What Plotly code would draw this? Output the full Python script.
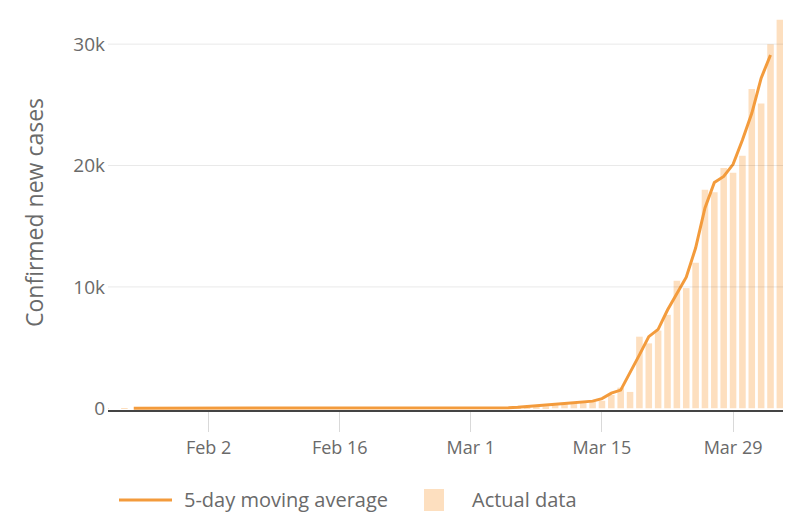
import pandas as pd
import plotly.graph_objects as go

# daily new confirmed cases, Jan 22 - Apr 3 2020
bar_start = "2020-01-22"
actual_cases = [
    # Jan 22-31
    1, 0, 1, 0, 3, 0, 0, 0, 0, 1,
    # Feb 1-29
    1, 2, 3, 0, 0, 1, 0, 0, 0, 1, 1, 0, 0, 1, 0, 0, 0, 0, 0, 0,
    2, 0, 0, 0, 0, 0, 0, 1, 7,
    # Mar 1-31
    8, 20, 20, 30, 60, 50, 110, 110, 160, 250, 330, 400, 500, 550, 620,
    1100, 1700, 1350, 5900, 5350, 6400, 7700, 10500, 9900, 12000, 18000,
    17800, 19800, 19400, 20800, 26300,
    # Apr 1-3
    25100, 30000, 32000,
]

# 5-day moving average, Jan 25 - Apr 2 2020
avg_start = "2020-01-25"
moving_avg = [
    # Jan 25-31
    1, 1, 1, 1, 1, 0, 0,
    # Feb 1-29
    1, 1, 1, 1, 1, 0, 0, 0, 0, 0, 0, 0, 0, 0, 0, 0, 0, 0, 0, 0,
    0, 1, 0, 0, 0, 0, 1, 2, 3,
    # Mar 1-31
    5, 10, 20, 30, 45, 80, 130, 190, 260, 330, 400, 470, 530, 590, 800,
    1250, 1500, 2900, 4400, 5900, 6500, 8100, 9400, 10800, 13200, 16500,
    18600, 19100, 20100, 22100, 24300,
    # Apr 1-2
    27200, 29100,
]

x_tick_vals = ["2020-02-02", "2020-02-16", "2020-03-01", "2020-03-15", "2020-03-29"]
x_tick_text = ["Feb 2", "Feb 16", "Mar 1", "Mar 15", "Mar 29"]
y_tick_vals = [0, 10000, 20000, 30000]
y_tick_text = ["0", "10k", "20k", "30k"]

LINE = "#F39B3C"
BAR = "#FDDFBF"
TEXT = "#6a6a6a"
FONT = "Open Sans"

bar_dates = pd.date_range(bar_start, periods=len(actual_cases), freq="D")
avg_dates = pd.date_range(avg_start, periods=len(moving_avg), freq="D")

fig = go.Figure()
fig.add_trace(go.Bar(x=bar_dates, y=actual_cases, marker_color=BAR,
                     marker_line_width=0, name="Actual data", showlegend=False))
fig.add_trace(go.Scatter(x=avg_dates, y=moving_avg, mode="lines",
                         line=dict(color=LINE, width=3), name="5-day moving average",
                         showlegend=False))

# page body has an 8px margin, so work in figure pixels = screen pixels - 8
OFF = 8
L, R, T, B = 108 - OFF, 783 - OFF, 15 - OFF, 410 - OFF
W, H = 800, 529


def px(x, y):
    # screen pixel -> paper coords
    x -= OFF
    y -= OFF
    return (x - L) / (R - L), (B - y) / (B - T)


# faint gridlines that also show over the bars, like the original
for v in y_tick_vals[1:]:
    fig.add_shape(type="line", xref="paper", yref="y", x0=0, x1=1, y0=v, y1=v,
                  line=dict(color="rgba(0,0,0,0.09)", width=1), layer="above")

# legend drawn by hand so the glyphs match the original
lx0, ly = px(119, 500)
lx1, _ = px(172, 500)
rx0, ry1 = px(424, 489)
rx1, ry0 = px(444, 511)
t1x, _ = px(182, 500)
t2x, _ = px(470, 500)

fig.add_shape(type="line", xref="paper", yref="paper", x0=lx0, x1=lx1, y0=ly, y1=ly,
              line=dict(color=LINE, width=3))
fig.add_shape(type="rect", xref="paper", yref="paper", x0=rx0, x1=rx1, y0=ry0, y1=ry1,
              fillcolor=BAR, line_width=0)
fig.add_annotation(xref="paper", yref="paper", x=t1x, y=ly, text="5-day moving average",
                   showarrow=False, xanchor="left", yanchor="middle",
                   font=dict(family=FONT, size=20, color=TEXT))
fig.add_annotation(xref="paper", yref="paper", x=t2x, y=ly, text="Actual data",
                   showarrow=False, xanchor="left", yanchor="middle",
                   font=dict(family=FONT, size=20, color=TEXT))

fig.update_layout(
    width=W, height=H,
    margin=dict(l=L, r=W - R, t=T, b=H - B),
    plot_bgcolor="white", paper_bgcolor="white",
    bargap=0.3,
    font=dict(family=FONT, color=TEXT),
)
fig.update_xaxes(
    range=["2020-01-22 06:00", "2020-04-03 08:00"],
    tickvals=x_tick_vals, ticktext=x_tick_text,
    ticks="outside", ticklen=20, tickcolor="#d9d9d9", tickwidth=1,
    showgrid=False, zeroline=False,
    showline=True, linecolor="#444444", linewidth=2,
    tickfont=dict(size=18, color=TEXT),
)
fig.update_yaxes(
    range=[-140, 32400],
    tickvals=y_tick_vals, ticktext=y_tick_text,
    showgrid=False, zeroline=False,
    showline=False, ticks="", ticklabelstandoff=2,
    tickfont=dict(size=19, color=TEXT),
    title=dict(text="Confirmed new cases", font=dict(size=23, color=TEXT), standoff=23),
)

fig.write_html("out.html")
